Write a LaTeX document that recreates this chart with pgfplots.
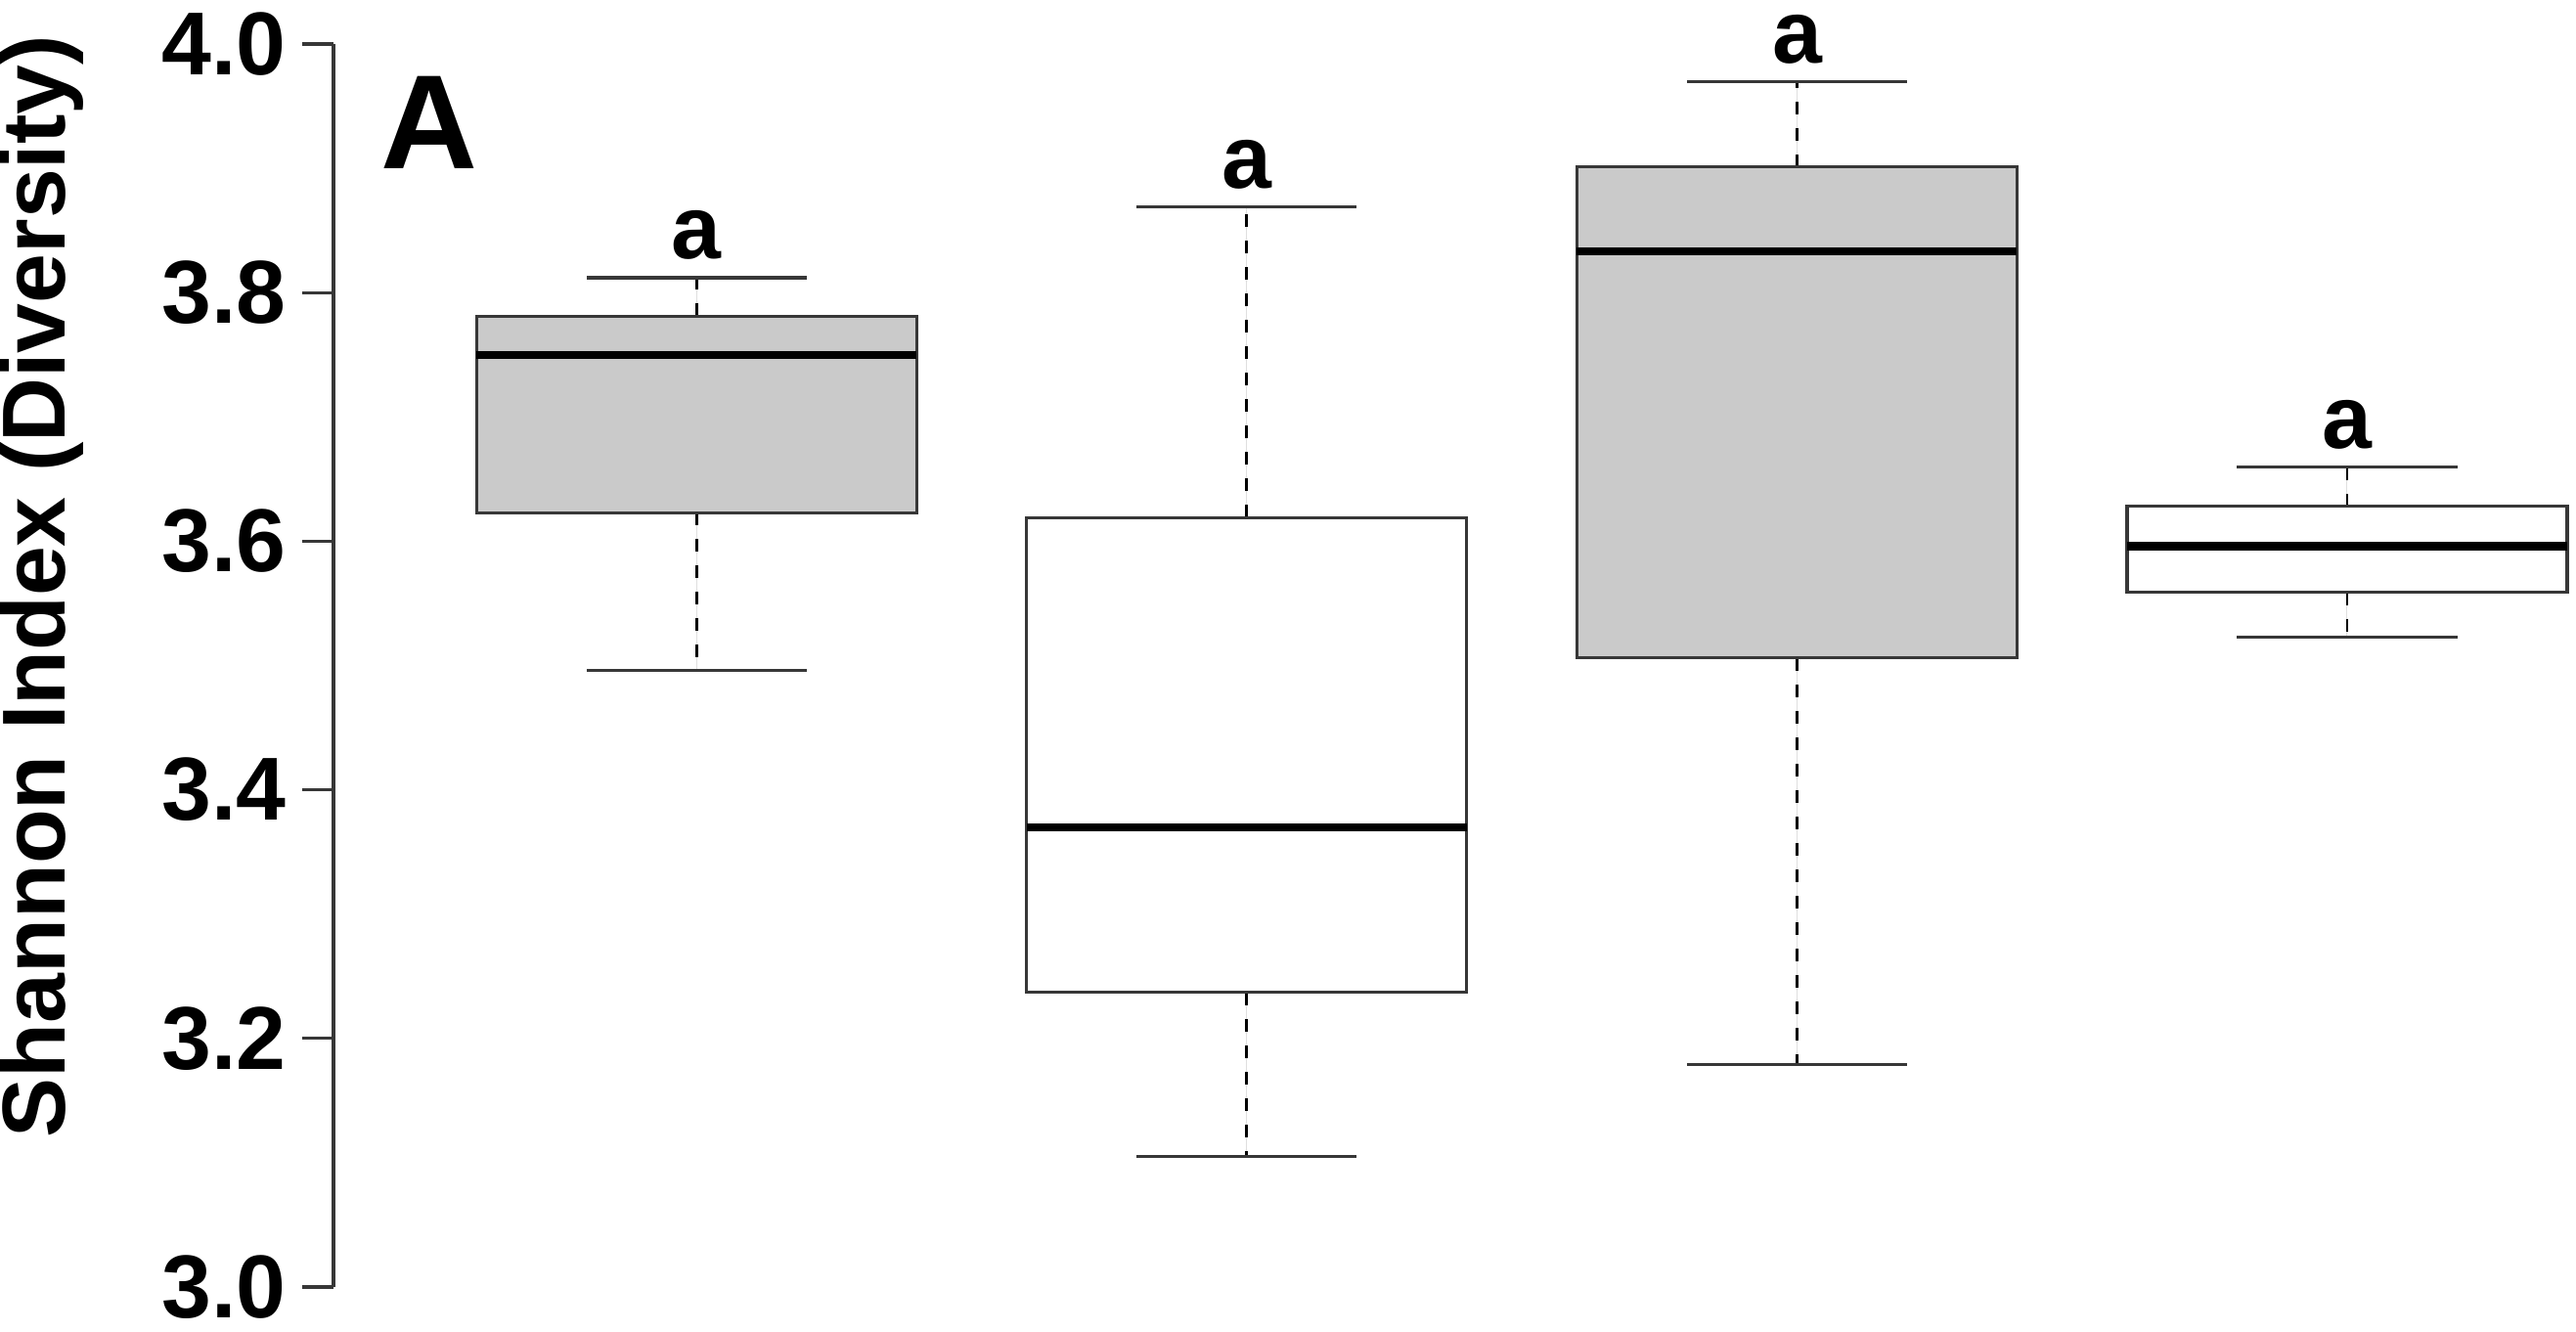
\documentclass[border=0pt]{standalone}
\usepackage{pgfplots}
\pgfplotsset{compat=1.18}
\usepgfplotslibrary{statistics}
\usepackage{fontspec}
\setmainfont{Liberation Sans}

\definecolor{boxgray}{RGB}{202,202,202}
\definecolor{linegray}{RGB}{55,55,55}

\newcommand{\bigfont}{\fontsize{26}{31}\selectfont\bfseries}

\tikzset{
  whiskstem/.style={black, line width=0.028cm, dash pattern=on 0.13cm off 0.14cm},
  whiskcap/.style={linegray, line width=0.032cm, solid},
}

\begin{document}
\begin{tikzpicture}

% whiskers: dashed stem, solid cap (R style)
\pgfplotsset{
  boxplot/draw/lower whisker/.code={%
    \draw[whiskstem]
      (boxplot cs:\pgfplotsboxplotvalue{lower quartile}) --
      (boxplot cs:\pgfplotsboxplotvalue{lower whisker});
    \draw[whiskcap]
      (boxplot whisker cs:\pgfplotsboxplotvalue{lower whisker},0) --
      (boxplot whisker cs:\pgfplotsboxplotvalue{lower whisker},1);
  },
  boxplot/draw/upper whisker/.code={%
    \draw[whiskstem]
      (boxplot cs:\pgfplotsboxplotvalue{upper quartile}) --
      (boxplot cs:\pgfplotsboxplotvalue{upper whisker});
    \draw[whiskcap]
      (boxplot whisker cs:\pgfplotsboxplotvalue{upper whisker},0) --
      (boxplot whisker cs:\pgfplotsboxplotvalue{upper whisker},1);
  },
}

\begin{axis}[
    at={(3.41cm,0.45cm)},
    anchor=south west,
    scale only axis,
    width=22.93cm,
    height=12.71cm,
    xmin=0.34, xmax=4.416,
    ymin=3, ymax=4,
    axis y line=left,
    axis x line=none,
    axis line style={-, linegray, line width=0.032cm},
    ytick={3,3.2,3.4,3.6,3.8,4},
    tick align=outside,
    major tick length=0.32cm,
    ytick style={linegray, line width=0.032cm},
    yticklabel style={
        font=\bigfont,
        xshift=-0.04cm,
        /pgf/number format/fixed,
        /pgf/number format/fixed zerofill,
        /pgf/number format/precision=1,
        /pgf/number format/assume math mode=true
    },
    ylabel={Shannon Index (Diversity)},
    ylabel style={font=\bigfont, at={(axis description cs:-0.1302,0.5637)}, anchor=center},
    clip=false,
    boxplot/draw direction=y,
    boxplot/box extend=0.8,
    boxplot/whisker extend=0.4,
    boxplot/every median/.style={black, line width=0.084cm},
    boxplot/every box/.style={draw=linegray, line width=0.032cm},
]

\addplot[boxplot prepared={draw position=1, lower whisker=3.496,
    lower quartile=3.623, median=3.750, upper quartile=3.781,
    upper whisker=3.812}, fill=boxgray] coordinates {};
\addplot[boxplot prepared={draw position=2, lower whisker=3.105,
    lower quartile=3.237, median=3.370, upper quartile=3.619,
    upper whisker=3.869}, fill=white] coordinates {};
\addplot[boxplot prepared={draw position=3, lower whisker=3.179,
    lower quartile=3.506, median=3.833, upper quartile=3.901,
    upper whisker=3.970}, fill=boxgray] coordinates {};
\addplot[boxplot prepared={draw position=4, lower whisker=3.523,
    lower quartile=3.559, median=3.596, upper quartile=3.628,
    upper whisker=3.660}, fill=white] coordinates {};

% significance letters
\node[font=\bigfont, anchor=base] at (axis cs:1,3.827) {a};
\node[font=\bigfont, anchor=base] at (axis cs:2,3.884) {a};
\node[font=\bigfont, anchor=base] at (axis cs:3,3.985) {a};
\node[font=\bigfont, anchor=base] at (axis cs:4,3.675) {a};

% panel letter
\node[font=\fontsize{39}{46}\selectfont\bfseries, anchor=base] at (axis cs:0.515,3.900) {A};

\end{axis}

\pgfresetboundingbox
\path[use as bounding box] (0,0) rectangle (26.34cm,13.61cm);

\end{tikzpicture}
\end{document}
